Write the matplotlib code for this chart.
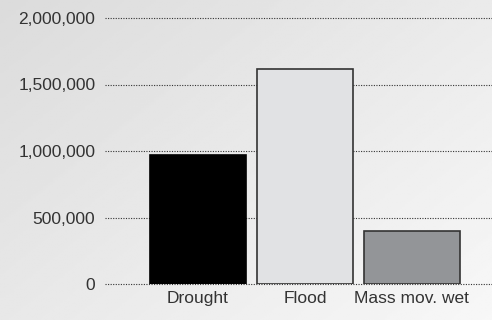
import matplotlib
matplotlib.use("Agg")
import matplotlib.pyplot as plt
import numpy as np
from matplotlib.ticker import FuncFormatter

# datos
categorias = ['Drought', 'Flood', 'Mass mov. wet']
valores = [970000, 1615000, 398000]
colores = ['#000000', '#e1e2e4', '#939598']
bordes = ['#000000', '#333333', '#333333']
ticks_y = [0, 500000, 1000000, 1500000, 2000000]

plt.rcParams['font.family'] = ['Liberation Sans', 'DejaVu Sans']

fig = plt.figure(figsize=(4.92, 3.20), dpi=100)

# fondo con degradado diagonal
fondo = fig.add_axes([0, 0, 1, 1], zorder=-1)
xx, yy = np.meshgrid(np.linspace(0, 1, 200), np.linspace(0, 1, 200))
t = (xx * 0.55 + yy * 0.45)
fondo.imshow(0.86 + t * 0.11, cmap='gray', vmin=0, vmax=1, aspect='auto',
             extent=[0, 1, 0, 1], origin='upper')
fondo.axis('off')

ax = fig.add_axes([105 / 492, 36 / 320, 387 / 492, 266 / 320])
ax.patch.set_alpha(0)
x = np.arange(len(categorias))
ax.bar(x, valores, width=0.9, color=colores, edgecolor=bordes, linewidth=1.2, zorder=3)

ax.set_xlim(-0.87, 2.75)
ax.set_ylim(0, 2000000)
ax.set_yticks(ticks_y)
ax.yaxis.set_major_formatter(FuncFormatter(lambda v, p: f'{int(v):,}'))
ax.set_xticks(x)
ax.set_xticklabels(categorias)
ax.grid(axis='y', linestyle=(0, (1, 1.3)), color='#333333', linewidth=0.8, zorder=1)
for g in ax.get_ygridlines():
    g.set_clip_on(False)
ax.set_axisbelow(True)
for s in ax.spines.values():
    s.set_visible(False)
ax.tick_params(length=0, labelsize=12.5, labelcolor='#333333')
ax.tick_params(axis='y', pad=7)
ax.tick_params(axis='x', pad=5)

fig.savefig('out.png', dpi=100)
